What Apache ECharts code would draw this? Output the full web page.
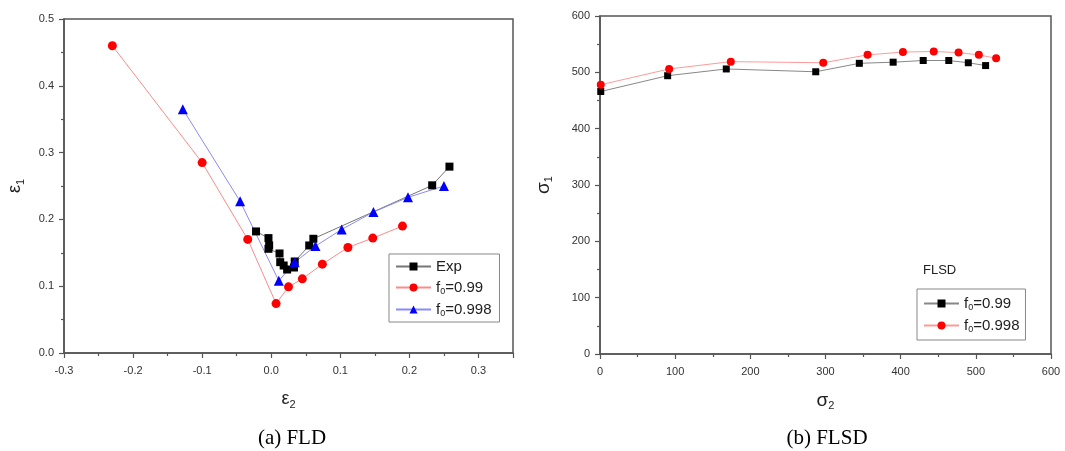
<!DOCTYPE html>
<html>
<head>
<meta charset="utf-8">
<script src="https://cdn.jsdelivr.net/npm/echarts@6/dist/echarts.min.js"></script>
<style>
html,body{margin:0;padding:0;background:#fff;}
#c{width:1065px;height:451px;}
</style>
</head>
<body>
<div id="c"></div>
<script>
// ---- (a) FLD data ----
const fldExpE2  = [-0.022, -0.004, -0.003, -0.004, 0.012, 0.013, 0.018, 0.023, 0.033, 0.034, 0.055, 0.061, 0.233, 0.258];
const fldExpE1  = [0.182, 0.172, 0.161, 0.156, 0.149, 0.136, 0.131, 0.125, 0.128, 0.137, 0.161, 0.171, 0.251, 0.279];
const fld099E2  = [-0.230, -0.100, -0.034, 0.007, 0.025, 0.045, 0.074, 0.111, 0.147, 0.190];
const fld099E1  = [0.460, 0.285, 0.170, 0.074, 0.099, 0.111, 0.133, 0.158, 0.172, 0.190];
const fld0998E2 = [-0.128, -0.045, 0.011, 0.034, 0.064, 0.102, 0.148, 0.198, 0.250];
const fld0998E1 = [0.365, 0.227, 0.108, 0.136, 0.160, 0.185, 0.211, 0.233, 0.250];

// ---- (b) FLSD data ----
const flsd099S2  = [1, 90, 168, 287, 345, 390, 430, 464, 490, 513];
const flsd099S1  = [466, 494, 506, 501, 516, 518, 521, 521, 517, 512];
const flsd0998S2 = [1, 92, 174, 297, 356, 403, 444, 477, 504, 527];
const flsd0998S1 = [478, 506, 519, 517, 531, 536, 537, 535, 531, 525];

// ---- tick / label text ----
const legendLabels = {
  'Exp': 'Exp',
  'a099': 'f{sub|0}=0.99',
  'a0998': 'f{sub|0}=0.998',
  'b099': 'f{sub|0}=0.99',
  'b0998': 'f{sub|0}=0.998'
};
const subtitleA = '(a) FLD';
const subtitleB = '(b) FLSD';
const annotationB = 'FLSD';

const zip = (xs, ys) => xs.map((x, i) => [x, ys[i]]);

const axisColor = '#555';
const labelColor = '#333';
const sans = 'Liberation Sans, Arial, sans-serif';
const subRich = {
  sub: { fontSize: 9, fontFamily: sans, color: '#222', verticalAlign: 'bottom', padding: [8, 0, 0, 0] }
};
const nameRich = {
  sub: { fontSize: 11, fontFamily: sans, color: '#222', verticalAlign: 'bottom', padding: [10, 0, 0, 0] }
};

function valueAxis(opts) {
  return Object.assign({
    type: 'value',
    axisLine: { show: true, onZero: false, lineStyle: { color: axisColor, width: 1.5 } },
    axisTick: { show: true, inside: false, length: 5, lineStyle: { color: axisColor, width: 1.2 } },
    minorTick: { show: true, splitNumber: 2, length: 3, lineStyle: { color: axisColor, width: 1.2 } },
    splitLine: { show: false },
    axisLabel: { color: labelColor, fontSize: 11, fontFamily: sans, showMaxLabel: true }
  }, opts);
}

const chart = echarts.init(document.getElementById('c'), null, { renderer: 'canvas' });

const option = {
  backgroundColor: '#ffffff',
  animation: false,
  title: [
    { text: subtitleA, left: 287, top: 423, textAlign: 'center',
      textStyle: { fontFamily: 'Liberation Serif, Times New Roman, serif', fontSize: 21, fontWeight: 'normal', color: '#000' } },
    { text: subtitleB, left: 822, top: 423, textAlign: 'center',
      textStyle: { fontFamily: 'Liberation Serif, Times New Roman, serif', fontSize: 21, fontWeight: 'normal', color: '#000' } },
    { text: annotationB, left: 918, top: 259,
      textStyle: { fontFamily: sans, fontSize: 13, fontWeight: 'normal', color: '#222' } }
  ],
  grid: [
    { left: 64, top: 19, width: 449, height: 334, show: true, borderColor: axisColor, borderWidth: 1.5, backgroundColor: 'transparent' },
    { left: 600, top: 16, width: 451, height: 338, show: true, borderColor: axisColor, borderWidth: 1.5, backgroundColor: 'transparent' }
  ],
  xAxis: [
    valueAxis({ gridIndex: 0, min: -0.3, max: 0.35, interval: 0.1,
      name: 'ε{sub|2}', nameLocation: 'middle', nameGap: 36,
      nameTextStyle: { fontFamily: sans, fontSize: 18, color: '#222', rich: nameRich },
      axisLabel: { color: labelColor, fontSize: 11, fontFamily: sans, margin: 12, showMaxLabel: false,
        formatter: v => v.toFixed(1) } }),
    valueAxis({ gridIndex: 1, min: 0, max: 600, interval: 100,
      name: 'σ{sub|2}', nameLocation: 'middle', nameGap: 36,
      nameTextStyle: { fontFamily: sans, fontSize: 19, color: '#222', rich: nameRich },
      axisLabel: { color: labelColor, fontSize: 11, fontFamily: sans, margin: 12 } })
  ],
  yAxis: [
    valueAxis({ gridIndex: 0, min: 0, max: 0.5, interval: 0.1,
      name: 'ε{sub|1}', nameLocation: 'middle', nameGap: 38, nameRotate: 90,
      nameTextStyle: { fontFamily: sans, fontSize: 18, color: '#222', rich: nameRich },
      axisLabel: { color: labelColor, fontSize: 11, fontFamily: sans, margin: 10,
        formatter: v => v.toFixed(1) } }),
    valueAxis({ gridIndex: 1, min: 0, max: 600, interval: 100,
      name: 'σ{sub|1}', nameLocation: 'middle', nameGap: 46, nameRotate: 90,
      nameTextStyle: { fontFamily: sans, fontSize: 19, color: '#222', rich: nameRich },
      axisLabel: { color: labelColor, fontSize: 11, fontFamily: sans, margin: 10 } })
  ],
  legend: [
    { data: ['Exp', 'a099', 'a0998'], orient: 'vertical', left: 389, top: 254,
      width: 106, itemWidth: 35, itemHeight: 10, itemGap: 6,
      padding: [5, 8, 4, 6], borderColor: '#888', borderWidth: 1,
      formatter: n => legendLabels[n],
      textStyle: { fontFamily: sans, fontSize: 15, color: '#222', rich: subRich } },
    { data: ['b099', 'b0998'], orient: 'vertical', left: 917, top: 289,
      width: 106, itemWidth: 35, itemHeight: 10, itemGap: 6,
      padding: [7, 6, 6, 6], borderColor: '#888', borderWidth: 1,
      formatter: n => legendLabels[n],
      textStyle: { fontFamily: sans, fontSize: 15, color: '#222', rich: subRich } }
  ],
  series: [
    { name: 'Exp', type: 'line', xAxisIndex: 0, yAxisIndex: 0, data: zip(fldExpE2, fldExpE1),
      symbol: 'rect', symbolSize: 8, itemStyle: { color: '#000' },
      lineStyle: { color: '#777', width: 1 } },
    { name: 'a099', type: 'line', xAxisIndex: 0, yAxisIndex: 0, data: zip(fld099E2, fld099E1),
      symbol: 'circle', symbolSize: 9, itemStyle: { color: '#ff0000' },
      lineStyle: { color: '#ff8a8a', width: 1 } },
    { name: 'a0998', type: 'line', xAxisIndex: 0, yAxisIndex: 0, data: zip(fld0998E2, fld0998E1),
      symbol: 'triangle', symbolSize: 10, itemStyle: { color: '#0000ff' },
      lineStyle: { color: '#8a8aff', width: 1 } },
    { name: 'b099', type: 'line', xAxisIndex: 1, yAxisIndex: 1, data: zip(flsd099S2, flsd099S1),
      symbol: 'rect', symbolSize: 7, itemStyle: { color: '#000' },
      lineStyle: { color: '#888', width: 1 } },
    { name: 'b0998', type: 'line', xAxisIndex: 1, yAxisIndex: 1, data: zip(flsd0998S2, flsd0998S1),
      symbol: 'circle', symbolSize: 8, itemStyle: { color: '#ff0000' },
      lineStyle: { color: '#ff9a9a', width: 1 } }
  ]
};
chart.setOption(option);
</script>
</body>
</html>
